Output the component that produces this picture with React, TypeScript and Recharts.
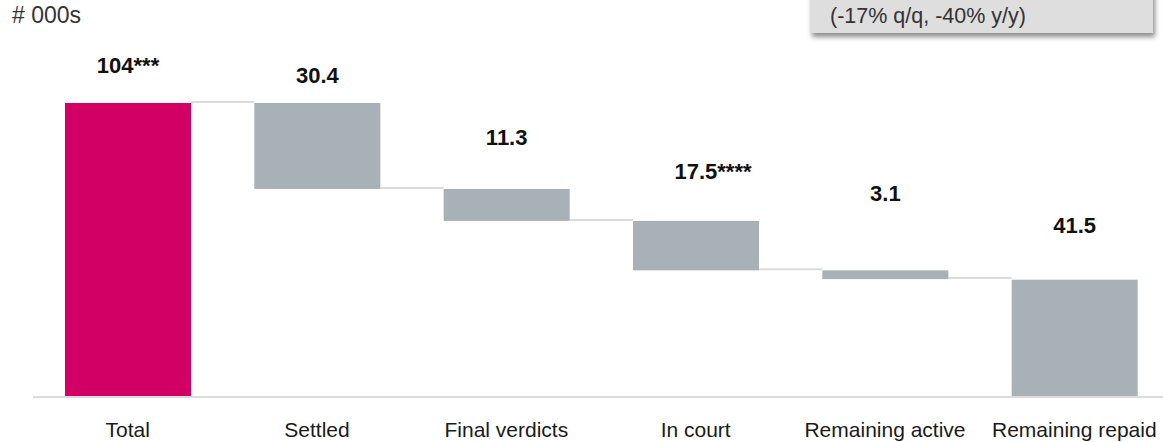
import React from 'react';
import { BarChart, Bar, XAxis, YAxis, LabelList } from 'recharts';

// Case funnel, thousands of cases
const categories = ['Total', 'Settled', 'Final verdicts', 'In court', 'Remaining active', 'Remaining repaid'];
const amounts = [104, 30.4, 11.3, 17.5, 3.1, 41.5];
const valueLabels = ['104', '30.4', '11.3', '17.5', '3.1', '41.5'];
const footnotes = ['***', '', '', '****', '', ''];
const isTotal = [true, false, false, false, false, true];

const PINK = '#d20064';
const GREY = '#a9b1b8';
const LINE = '#dcdcdc';

const CHART_W = 1200;
const CHART_H = 442;
const MARGIN = { top: 103, right: 31, left: 33, bottom: 0 };
const AXIS_H = 45;
const BAR_W = 126;
const BAND = (CHART_W - MARGIN.left - MARGIN.right) / categories.length;
const GAP = BAND - BAR_W;
const PLOT_BOTTOM = CHART_H - MARGIN.bottom - AXIS_H;

// label placement: px above bar top, and horizontal nudge
const labelLift = [30, 20, 44, 42, 69, 47];
const labelNudge = [0, 0, 0, 17, 0, 0];

// running level for the floating bars
let level = 0;
const rows = categories.map((name, i) => {
  const amount = amounts[i];
  let base = 0;
  if (isTotal[i]) {
    level = amount;
  } else {
    base = level - amount;
    level = base;
  }
  return { name, base, amount, total: isTotal[i], label: valueLabels[i], note: footnotes[i] };
});

const WaterfallBar = (props: any) => {
  const { x, y, width, height, index, payload } = props;
  const last = index === rows.length - 1;
  const joinY = payload.total ? y : y + height;
  return (
    <g>
      {!last && (
        <line x1={x + width} x2={x + width + GAP} y1={joinY - 1} y2={joinY - 1} stroke={LINE} strokeWidth={2} />
      )}
      <rect x={x} y={y} width={width} height={height} fill={index === 0 ? PINK : GREY} />
    </g>
  );
};

const ValueLabel = (props: any) => {
  const { x, y, width, index } = props;
  const row = rows[index];
  return (
    <text
      x={x + width / 2 + labelNudge[index]}
      y={y - labelLift[index]}
      textAnchor="middle"
      fontSize={22}
      fontWeight="bold"
      fill="#111"
      fontFamily="Arial, 'Liberation Sans', sans-serif"
    >
      {row.label}
      {row.note}
    </text>
  );
};

const CategoryTick = (props: any) => {
  const { x, payload } = props;
  return (
    <text
      x={x}
      y={PLOT_BOTTOM + 40}
      textAnchor="middle"
      fontSize={21}
      fill="#1a1a1a"
      fontFamily="Arial, 'Liberation Sans', sans-serif"
    >
      {payload.value}
    </text>
  );
};

export default function App() {
  return (
    <div
      style={{
        position: 'absolute',
        left: 0,
        top: 0,
        width: 1163,
        height: 442,
        overflow: 'hidden',
        background: '#fff',
        fontFamily: "Arial, 'Liberation Sans', sans-serif",
      }}
    >
      <BarChart width={CHART_W} height={CHART_H} data={rows} margin={MARGIN} barSize={BAR_W}>
        <XAxis
          dataKey="name"
          height={AXIS_H}
          axisLine={{ stroke: LINE, strokeWidth: 2 }}
          tickLine={false}
          tick={<CategoryTick />}
          interval={0}
        />
        <YAxis hide domain={[0, 104]} />
        <Bar dataKey="base" stackId="wf" fill="transparent" isAnimationActive={false} />
        <Bar dataKey="amount" stackId="wf" shape={<WaterfallBar />} isAnimationActive={false}>
          <LabelList dataKey="amount" content={<ValueLabel />} />
        </Bar>
      </BarChart>

      <div style={{ position: 'absolute', left: 12, top: 2, fontSize: 23, color: '#333', lineHeight: 'normal' }}>
        # 000s
      </div>

      <div
        style={{
          position: 'absolute',
          left: 810,
          top: -12,
          width: 343,
          height: 45,
          background: '#dedede',
          boxShadow: '2px 4px 5px rgba(0,0,0,0.45)',
        }}
      />
      <div style={{ position: 'absolute', left: 830, top: 4, fontSize: 21.5, color: '#333', lineHeight: 'normal' }}>
        (-17% q/q, -40% y/y)
      </div>
    </div>
  );
}
